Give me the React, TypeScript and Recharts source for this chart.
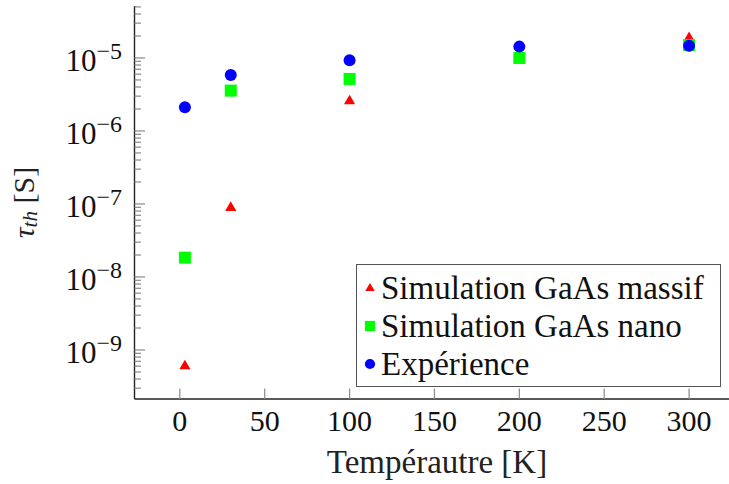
import {
  ScatterChart,
  Scatter,
  XAxis,
  YAxis,
  Legend,
} from "recharts";

const FONT = "Liberation Serif, DejaVu Serif, serif";
const TICK = "#8a8a8a";
const AXIS = "#222";

// temperatures (K) and times (s)
const MASSIF_T = [3, 30, 100, 300];
const MASSIF_TAU = [6.1e-10, 9.0e-8, 2.6e-6, 1.9e-5];

const NANO_T = [3, 30, 100, 200, 300];
const NANO_TAU = [1.84e-8, 3.57e-6, 5.16e-6, 1.0e-5, 1.5e-5];

const EXP_T = [3, 30, 100, 200, 300];
const EXP_TAU = [2.11e-6, 5.85e-6, 9.3e-6, 1.43e-5, 1.47e-5];

const X_TICKS = [0, 50, 100, 150, 200, 250, 300];
const X_DOMAIN = [-26.7, 329.7];

const Y_DOMAIN = [2.13e-10, 5.15e-5];
const Y_TICKS: number[] = [];
for (let e = -10; e <= -5; e++) {
  for (let k = 1; k <= 9; k++) {
    const v = k * Math.pow(10, e);
    if (v >= Y_DOMAIN[0] && v <= Y_DOMAIN[1]) Y_TICKS.push(v);
  }
}

const SERIES = [
  { name: "Simulation GaAs massif", t: MASSIF_T, tau: MASSIF_TAU, color: "#ff0000", shape: "triangle" },
  { name: "Simulation GaAs nano", t: NANO_T, tau: NANO_TAU, color: "#00ff00", shape: "square" },
  { name: "Expérience", t: EXP_T, tau: EXP_TAU, color: "#0000ff", shape: "circle" },
];

function Marker({ cx, cy, shape, color, s = 1 }: any) {
  if (shape === "triangle") {
    const w = 5.6 * s;
    return (
      <polygon
        points={`${cx},${cy - 6 * s} ${cx - w},${cy + 3.6 * s} ${cx + w},${cy + 3.6 * s}`}
        fill={color}
      />
    );
  }
  if (shape === "square") {
    const h = 6 * s;
    return <rect x={cx - h} y={cy - h} width={2 * h} height={2 * h} fill={color} />;
  }
  return <circle cx={cx} cy={cy} r={6 * s} fill={color} />;
}

const isMajor = (v: number) => {
  const l = Math.log10(v);
  return Math.abs(l - Math.round(l)) < 1e-6;
};

function BottomTick({ x, y, payload }: any) {
  return (
    <g>
      <line x1={x} x2={x} y1={y} y2={y - 10.5} stroke={TICK} strokeWidth={1.2} />
      <text x={x} y={y + 32} textAnchor="middle" fontFamily={FONT} fontSize={30} fill="#111">
        {payload.value}
      </text>
    </g>
  );
}

function TopTick({ x, y }: any) {
  return <line x1={x} x2={x} y1={y} y2={y + 10.5} stroke={TICK} strokeWidth={1.2} />;
}

function LeftTick({ x, y, payload }: any) {
  const major = isMajor(payload.value);
  const exp = Math.round(Math.log10(payload.value));
  return (
    <g>
      <line x1={x} x2={x + (major ? 10.5 : 6.5)} y1={y} y2={y} stroke={TICK} strokeWidth={1.2} />
      {major && (
        <text x={x - 12.5} y={y + 13} textAnchor="end" fontFamily={FONT} fontSize={31} fill="#111">
          <tspan>10</tspan>
          <tspan dy={-12} fontSize={24}>{"\u2212" + Math.abs(exp)}</tspan>
        </text>
      )}
    </g>
  );
}

function RightTick({ x, y, payload }: any) {
  const major = isMajor(payload.value);
  return <line x1={x} x2={x - (major ? 10.5 : 6.5)} y1={y} y2={y} stroke={TICK} strokeWidth={1.2} />;
}

function LegendBox() {
  return (
    <div
      style={{
        width: 365,
        height: 123,
        boxSizing: "border-box",
        border: "1.4px solid #555",
        background: "#fff",
        padding: "4px 0 0 5px",
        fontFamily: FONT,
        fontSize: 33,
        color: "#111",
      }}
    >
      {SERIES.map((s) => (
        <div key={s.name} style={{ height: 38, display: "flex", alignItems: "center" }}>
          <svg width={16} height={16} style={{ marginRight: 3, flex: "none" }}>
            <Marker cx={8} cy={8} shape={s.shape} color={s.color} s={0.85} />
          </svg>
          <span style={{ lineHeight: "38px", whiteSpace: "nowrap" }}>{s.name}</span>
        </div>
      ))}
    </div>
  );
}

export default function App() {
  return (
    <div
      style={{
        position: "fixed",
        left: 0,
        top: 0,
        width: 729,
        height: 484,
        overflow: "hidden",
        background: "#fff",
      }}
    >
      <ScatterChart width={760} height={484} margin={{ top: 6, right: 20.5, bottom: 0, left: 0 }}>
        <XAxis
          xAxisId="b"
          type="number"
          dataKey="x"
          domain={X_DOMAIN}
          ticks={X_TICKS}
          interval={0}
          height={85}
          tickSize={0}
          tickMargin={0}
          tickLine={false}
          axisLine={{ stroke: AXIS, strokeWidth: 1.4 }}
          tick={<BottomTick />}
          allowDataOverflow
          label={{
            position: "center",
            content: ({ viewBox }: any) => (
              <text
                x={viewBox.x + viewBox.width / 2}
                y={viewBox.y + 74}
                textAnchor="middle"
                fontFamily={FONT}
                fontSize={33}
                fill="#222"
              >
                Tempérautre [K]
              </text>
            ),
          }}
        />
        <XAxis
          xAxisId="t"
          orientation="top"
          type="number"
          dataKey="x"
          domain={X_DOMAIN}
          ticks={X_TICKS}
          interval={0}
          height={0}
          tickSize={0}
          tickMargin={0}
          tickLine={false}
          axisLine={{ stroke: AXIS, strokeWidth: 1.4 }}
          tick={<TopTick />}
          allowDataOverflow
        />
        <YAxis
          yAxisId="l"
          type="number"
          dataKey="y"
          scale="log"
          domain={Y_DOMAIN}
          ticks={Y_TICKS}
          interval={0}
          width={134.5}
          tickSize={0}
          tickMargin={0}
          tickLine={false}
          axisLine={{ stroke: AXIS, strokeWidth: 1.4 }}
          tick={<LeftTick />}
          allowDataOverflow
          label={{
            position: "center",
            content: ({ viewBox }: any) => {
              const cx = viewBox.x + 27;
              const cy = viewBox.y + viewBox.height / 2;
              return (
                <text
                  x={cx}
                  y={cy}
                  transform={`rotate(-90, ${cx}, ${cy})`}
                  textAnchor="middle"
                  dominantBaseline="middle"
                  fontFamily={FONT}
                  fontSize={30}
                  fill="#222"
                >
                  <tspan fontStyle="italic">τ</tspan>
                  <tspan fontStyle="italic" fontSize={21} dy={5}>th</tspan>
                  <tspan dy={-5}> [S]</tspan>
                </text>
              );
            },
          }}
        />
        <YAxis
          yAxisId="r"
          orientation="right"
          type="number"
          dataKey="y"
          scale="log"
          domain={Y_DOMAIN}
          ticks={Y_TICKS}
          interval={0}
          width={0}
          tickSize={0}
          tickMargin={0}
          tickLine={false}
          axisLine={{ stroke: AXIS, strokeWidth: 1.4 }}
          tick={<RightTick />}
          allowDataOverflow
        />
        <Legend
          layout="vertical"
          align="center"
          verticalAlign="middle"
          wrapperStyle={{ left: 356, top: 264, width: 365, height: 123 }}
          content={<LegendBox />}
        />
        {SERIES.map((s) => (
          <Scatter
            key={s.name}
            name={s.name}
            xAxisId="b"
            yAxisId="l"
            data={s.t.map((t, i) => ({ x: t, y: s.tau[i] }))}
            fill={s.color}
            isAnimationActive={false}
            shape={(p: any) => <Marker cx={p.cx} cy={p.cy} shape={s.shape} color={s.color} />}
          />
        ))}
      </ScatterChart>
    </div>
  );
}
